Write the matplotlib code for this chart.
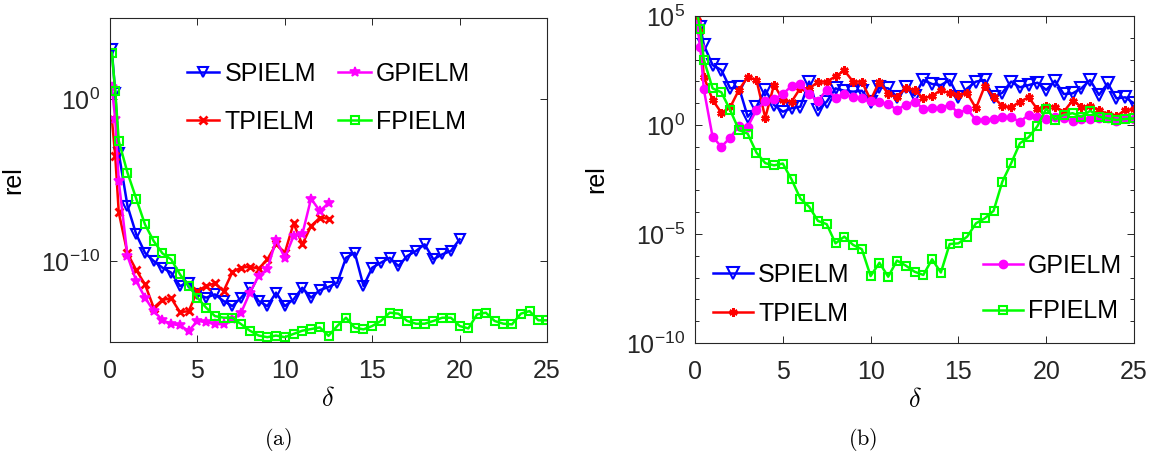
import numpy as np
import matplotlib
matplotlib.use("Agg")
import matplotlib.pyplot as plt

plt.rcParams['font.family'] = ['Liberation Sans', 'DejaVu Sans']
plt.rcParams['mathtext.fontset'] = 'cm'

# ---------------- data (log10 of rel) ----------------
delta_start = [0.1, 0.3]
delta = np.concatenate([delta_start, np.arange(0.5, 25.01, 0.5)])

# panel (a)
a_spielm = [3.07, 0.39, -3.33, -6.6, -8.35, -9.49, -10.0, -10.41, -10.72, -11.54, -11.34, -12.06,
            -12.26, -12.06, -12.47, -12.78, -12.26, -11.65, -12.47, -12.78, -11.95, -12.78,
            -12.37, -11.65, -12.26, -11.8, -11.6, -11.34, -9.8, -9.49, -11.54, -10.41,
            -10.1, -9.8, -10.31, -9.69, -9.38, -8.97, -9.9, -9.59, -9.38, -8.66]
a_tpielm = [-1.15, -3.52, -7.0, -9.53, -10.56, -11.44, -12.88, -12.4, -12.3, -13.15, -13.1, -11.85,
            -11.54, -11.38, -11.85, -10.68, -10.41, -10.35, -10.47, -9.9, -8.97, -9.49,
            -7.68, -8.97, -7.84, -7.33, -7.38]
a_gpielm = [0.75, -1.25, -5.06, -9.69, -11.23, -12.26, -13.09, -13.64, -13.9, -13.96, -14.32, -13.7,
            -13.77, -13.9, -13.9, -13.6, -13.19, -11.95, -10.93, -10.51, -8.7, -9.8,
            -8.46, -8.35, -6.15, -6.91, -6.43]
a_fpielm = [2.86, 0.49, -2.59, -4.55, -6.15, -7.74, -8.77, -9.53, -9.9, -10.82, -11.54, -12.26,
            -12.88, -13.4, -13.5, -13.5, -13.9, -14.3, -14.6, -14.7, -14.6, -14.7,
            -14.5, -14.3, -14.2, -14.1, -14.62, -14.01, -13.5, -14.12, -14.22, -14.01,
            -13.7, -13.19, -13.25, -13.7, -13.87, -13.87, -13.7, -13.5, -13.5, -14.01,
            -14.16, -13.29, -13.19, -13.7, -13.87, -13.91, -13.25, -13.09, -13.66, -13.66]

# panel (b)
b_spielm = [5.6, 4.5, 3.67, 2.75, 2.52, 1.68, 1.73, 0.38, 0.84, 1.61, 0.92, 0.61,
            0.77, 0.84, 1.99, 0.69, 1.07, 1.68, 1.57, 1.53, 1.57, 1.07,
            1.73, 1.68, 1.3, 1.73, 1.35, 2.06, 1.88, 1.83, 2.06, 1.27,
            1.68, 1.99, 2.06, 1.27, 1.48, 1.99, 1.73, 1.83, 1.94, 1.61,
            2.03, 1.42, 1.45, 1.68, 2.06, 1.38, 1.91, 1.22, 1.27, 0.99]
b_tpielm = [4.8, 4.3, 2.22, 1.15, 0.56, 0.81, 1.61, 2.2, 2.06, 0.33, 1.85, 1.15,
            1.07, 1.7, 1.66, 1.99, 1.99, 2.23, 2.5, 1.99, 1.99, 1.15,
            1.99, 1.42, 1.27, 1.7, 1.61, 1.22, 1.33, 1.61, 1.45, 1.38,
            1.45, 0.77, 1.79, 1.27, 0.87, 0.81, 1.07, 1.27, 0.72, 0.87,
            0.84, 0.61, 1.12, 0.84, 0.87, 0.69, 0.5, 0.41, 0.69, 0.72]
b_gpielm = [4.65, 3.6, 1.64, -0.54, -1.0, -0.58, -0.05, -0.08, 0.69, 1.1, 1.18, 1.42,
            1.79, 1.88, 1.4, 1.1, 1.62, 1.25, 1.42, 1.28, 1.22, 1.11,
            1.05, 0.97, 0.69, 0.94, 1.07, 0.75, 0.77, 0.77, 0.94, 0.54,
            0.72, 0.23, 0.23, 0.26, 0.35, 0.35, 0.15, 0.46, 0.35, 0.26,
            0.35, 0.31, 0.2, 0.26, 0.26, 0.31, 0.31, 0.2, 0.31, 0.26]
b_fpielm = [5.2, 4.4, 3.0, 1.68, 1.5, 0.69, -0.23, -0.4, -1.27, -1.75, -1.85, -1.77,
            -2.5, -3.38, -3.75, -4.4, -4.55, -5.43, -5.12, -5.5, -5.7, -6.93,
            -6.32, -6.96, -6.22, -6.45, -6.73, -6.88, -6.16, -6.77, -5.46, -5.43,
            -5.12, -4.51, -4.28, -3.94, -2.6, -1.76, -0.84, -0.56, -0.05, 0.75,
            0.25, 0.46, 0.54, 0.38, 0.65, 0.38, 0.31, 0.23, 0.28, 0.3]

labels = ['SPIELM', 'TPIELM', 'GPIELM', 'FPIELM']
colors = ['#0000ff', '#ff0000', '#ff00ff', '#00ff00']
xticks = [0, 5, 10, 15, 20, 25]

# ---------------- figure ----------------
fig = plt.figure(figsize=(11.58, 4.61), dpi=100)
axA = fig.add_axes([0.095, 0.2581, 0.3774, 0.7028])
axB = fig.add_axes([0.6002, 0.2560, 0.3791, 0.7093])

DARK = (0.15, 0.15, 0.15)
LW = 1.8


def plot_series(ax, y, color, marker, **kw):
    x = delta[:len(y)]
    return ax.plot(x, 10.0 ** np.asarray(y), color=color, lw=LW, marker=marker, **kw)[0]


# panel (a)
hA = []
hA.append(plot_series(axA, a_spielm, colors[0], 'v', ms=7.5, mfc='none', mew=1.5))
hA.append(plot_series(axA, a_tpielm, colors[1], 'x', ms=5.5, mew=2))
hA.append(plot_series(axA, a_gpielm, colors[2], '*', ms=7.5, mew=1.2))
hA.append(plot_series(axA, a_fpielm, colors[3], 's', ms=5.5, mfc='none', mew=1.5))

# panel (b)
hB = []
hB.append(plot_series(axB, b_spielm, colors[0], 'v', ms=8, mfc='none', mew=1.5))
hB.append(plot_series(axB, b_tpielm, colors[1], (6, 2, 0), ms=6, mew=1.8))
hB.append(plot_series(axB, b_gpielm, colors[2], 'o', ms=6))
hB.append(plot_series(axB, b_fpielm, colors[3], 's', ms=5.5, mfc='none', mew=1.5))

for ax in (axA, axB):
    ax.set_yscale('log')
    ax.set_xlim(0, 25)
    ax.set_xticks(xticks)
    ax.tick_params(which='both', direction='in', top=True, right=True, colors=DARK,
                   labelsize=18, width=0.7)
    ax.tick_params(which='major', length=5)
    ax.tick_params(which='minor', length=3)
    ax.tick_params(axis='x', pad=12)
    ax.tick_params(axis='y', pad=7)
    for s in ax.spines.values():
        s.set_color(DARK)
        s.set_linewidth(0.8)
    ax.set_ylabel('rel', fontsize=18, color='black')
    ax.set_xlabel(r'$\delta$', fontsize=19, color='black')

axA.set_ylim(1e-15, 1e5)
axA.set_yticks([1e-10, 1e0])
axA.yaxis.set_minor_locator(matplotlib.ticker.NullLocator())
axA.yaxis.set_label_coords(-0.195, 0.5)
axA.xaxis.set_label_coords(0.499, -0.14)

axB.set_ylim(1e-10, 1e5)
axB.set_yticks([1e-10, 1e-5, 1e0, 1e5])
axB.yaxis.set_minor_locator(matplotlib.ticker.FixedLocator([10.0 ** k for k in range(-9, 5)]))
axB.yaxis.set_minor_formatter(matplotlib.ticker.NullFormatter())
axB.yaxis.set_label_coords(-0.198, 0.5)
axB.xaxis.set_label_coords(0.5, -0.138)

# legends
legA = axA.legend(hA, labels, ncol=2, frameon=False, loc='upper left',
                  bbox_to_anchor=(0.176, 0.865), borderpad=0, borderaxespad=0,
                  fontsize=18, handlelength=1.3, handletextpad=0.2,
                  columnspacing=0.9, labelspacing=0.95)

legB1 = axB.legend(hB[:2], labels[:2], frameon=False, loc='upper left',
                   bbox_to_anchor=(0.041, 0.245), borderpad=0, borderaxespad=0,
                   fontsize=18, handlelength=1.6, handletextpad=0.2, labelspacing=0.6)
axB.add_artist(legB1)
legB2 = axB.legend(hB[2:], labels[2:], frameon=False, loc='upper left',
                   bbox_to_anchor=(0.656, 0.272), borderpad=0, borderaxespad=0,
                   fontsize=18, handlelength=1.6, handletextpad=0.2, labelspacing=0.85)

fig.text(0.240, 0.0456, r'$\mathrm{(a)}$', ha='center', va='center', fontsize=16)
fig.text(0.745, 0.0456, r'$\mathrm{(b)}$', ha='center', va='center', fontsize=16)

fig.savefig('out.png', dpi=100, facecolor='white')
